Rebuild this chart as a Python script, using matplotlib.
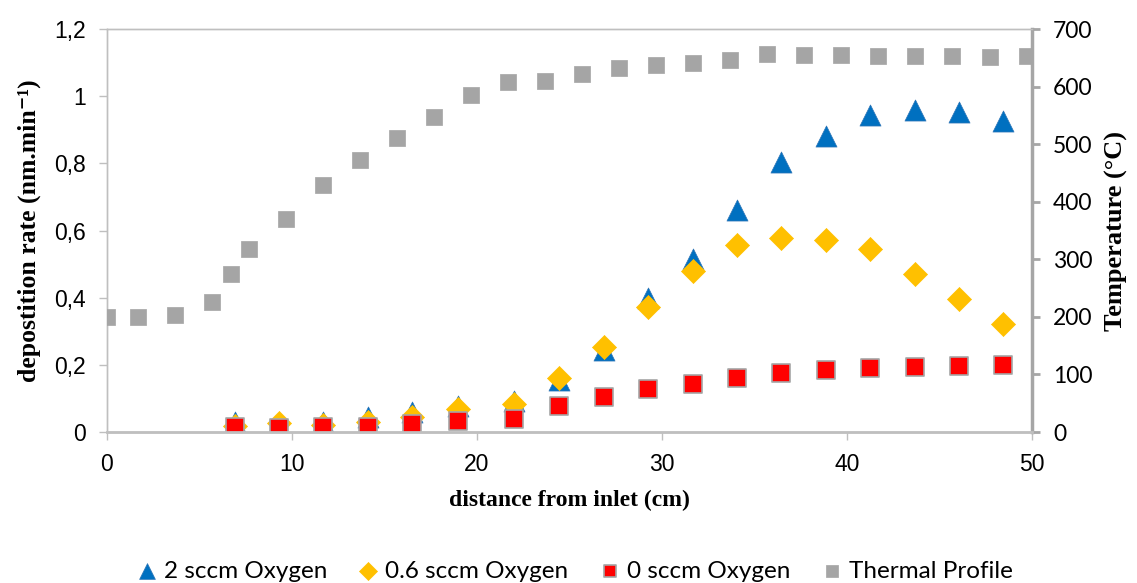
import matplotlib.pyplot as plt
from matplotlib.ticker import FuncFormatter

# deposition rate data (nm/min) along the reactor
dist = [6.9, 9.3, 11.7, 14.1, 16.5, 18.95, 22.0, 24.45, 26.85, 29.25, 31.65,
        34.05, 36.45, 38.85, 41.25, 43.65, 46.05, 48.45]
rate_2sccm = [0.029, 0.02, 0.029, 0.044, 0.06, 0.078, 0.093, 0.155, 0.245, 0.40,
              0.515, 0.661, 0.804, 0.883, 0.943, 0.958, 0.954, 0.926]
rate_06sccm = [0.017, 0.027, 0.02, 0.03, 0.045, 0.069, 0.082, 0.160, 0.254, 0.373,
               0.479, 0.557, 0.579, 0.573, 0.544, 0.470, 0.396, 0.321]
rate_0sccm = [0.016, 0.013, 0.014, 0.015, 0.023, 0.034, 0.039, 0.077, 0.103, 0.129,
              0.144, 0.160, 0.177, 0.185, 0.190, 0.193, 0.196, 0.199]

# thermal profile (°C)
dist_T = [0, 1.7, 3.7, 5.7, 6.7, 7.7, 9.7, 11.7, 13.7, 15.7, 17.7, 19.7, 21.7, 23.7,
          25.7, 27.7, 29.7, 31.7, 33.7, 35.7, 37.7, 39.7, 41.7, 43.7, 45.7, 47.7, 49.7]
temp = [200, 200, 203, 226, 275, 318, 370, 429, 473, 510, 548, 585, 608, 610,
        622, 632, 637, 641, 646, 656, 655, 655, 654, 654, 654, 652, 654]

spine_col = '#BFBFBF'
tick_font = 'Liberation Sans'
label_font = ['Liberation Serif', 'DejaVu Serif']
legend_font = 'Lato'

fig = plt.figure(figsize=(11.37, 5.83), dpi=100)
ax = fig.add_axes([0.0941, 0.259, 0.8136, 0.691])
ax2 = ax.twinx()

ax.scatter(dist, rate_2sccm, marker='^', s=230, color='#0070C0', edgecolors='#2E75B6',
           linewidths=0.5, zorder=3, label='2 sccm Oxygen')
ax.scatter(dist, rate_06sccm, marker='D', s=150, color='#FFC000', edgecolors='#FFC000',
           linewidths=0.5, zorder=4, label='0.6 sccm Oxygen')
ax.scatter(dist, rate_0sccm, marker='s', s=150, color='#FF0000', edgecolors='#A5A5A5',
           linewidths=1.2, zorder=5, label='0 sccm Oxygen')
ax2.scatter(dist_T, temp, marker='s', s=130, color='#A5A5A5', edgecolors='#A5A5A5',
            linewidths=0.5, zorder=3, label='Thermal Profile')

ax.set_xlim(0, 50)
ax.set_ylim(0, 1.2)
ax2.set_ylim(0, 700)
ax.set_xticks([0, 10, 20, 30, 40, 50])
ax.set_yticks([0, 0.2, 0.4, 0.6, 0.8, 1.0, 1.2])
ax2.set_yticks(range(0, 701, 100))
ax.yaxis.set_major_formatter(FuncFormatter(lambda v, p: ('%g' % round(v, 1)).replace('.', ',')))

for a in (ax, ax2):
    for s in a.spines.values():
        s.set_color(spine_col)
        s.set_linewidth(1.0)
ax2.spines['right'].set_color('#A6A6A6')
ax2.spines['right'].set_linewidth(2.5)
ax2.spines['bottom'].set_linewidth(2.0)

ax.tick_params(axis='both', direction='out', length=6, width=1, color=spine_col,
               labelsize=16.5, pad=9)
for t in ax.get_xticklabels() + ax.get_yticklabels():
    t.set_fontfamily(tick_font)
ax2.tick_params(axis='y', direction='out', length=6, width=2, color='#A6A6A6',
                labelsize=16.5, pad=9)
for t in ax2.get_yticklabels():
    t.set_fontfamily(legend_font)

ax.set_xlabel('distance from inlet (cm)', family=label_font, fontweight='bold',
              fontsize=17, labelpad=10)
ax.set_ylabel('depostition rate (nm.min⁻¹)', family=label_font,
              fontweight='bold', fontsize=18.5, labelpad=10)
ax2.set_ylabel('Temperature (°C)', family=label_font, fontweight='bold',
               fontsize=19, labelpad=9)

h1, l1 = ax.get_legend_handles_labels()
h2, l2 = ax2.get_legend_handles_labels()
leg = fig.legend(h1 + h2, l1 + l2, loc='center', bbox_to_anchor=(0.505, 0.02), ncol=4,
                 frameon=False, prop={'family': legend_font, 'size': 17.5},
                 handlelength=0.9, handletextpad=0.25, columnspacing=1.25, markerscale=0.75)

fig.savefig('out.png', dpi=100)
